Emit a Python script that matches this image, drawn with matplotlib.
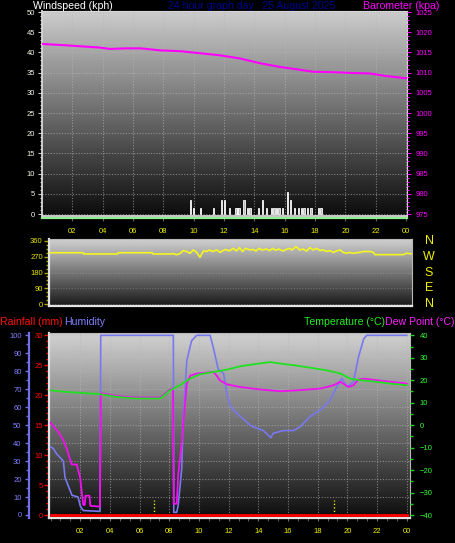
import numpy as np
import matplotlib.pyplot as plt
from matplotlib.ticker import MultipleLocator

plt.rcParams['font.family'] = ['Liberation Sans', 'DejaVu Sans']

# ---- data ----
hour_ticks = [2, 4, 6, 8, 10, 12, 14, 16, 18, 20, 22, 24]
hour_labels = ['02', '04', '06', '08', '10', '12', '14', '16', '18', '20', '22', '00']

wind_hours = [9.80, 10.0, 10.46, 11.32, 11.84, 12.04, 12.35, 12.79, 12.9, 13.0, 13.32, 13.56, 13.71,
              14.28, 14.55, 14.79, 15.14, 15.3, 15.47, 15.64, 15.86, 16.17, 16.39, 16.65,
              16.92, 17.1, 17.27, 17.49, 17.73, 18.22, 18.39]
wind_kph = [3.5, 1.6, 1.6, 1.6, 3.5, 3.5, 1.6, 1.6, 1.6, 1.6, 3.5, 1.6, 1.6,
            1.6, 3.5, 1.6, 1.6, 1.6, 1.6, 1.6, 1.6, 5.4, 3.5, 1.6,
            1.6, 1.6, 1.6, 1.6, 1.6, 1.6, 1.6]

baro_hours = [0, 1.6, 3.8, 4.5, 5.5, 6.5, 7.8, 9.1, 10.4, 11.7, 13.05, 14.4, 15.7, 17.0, 17.9,
              19.2, 20.5, 21.6, 22.7, 24]
baro_hpa = [1017.1, 1016.75, 1016.2, 1015.85, 1016.0, 1016.0, 1015.5, 1015.3, 1014.8, 1014.3,
            1013.5, 1012.3, 1011.4, 1010.7, 1010.2, 1010.1, 1009.9, 1009.8, 1009.15, 1008.6]

dir_hours = [0, 2.2, 2.25, 4.5, 4.55, 6.8, 6.85, 8.0, 8.2, 8.4, 8.6, 8.87, 9.09, 9.31, 9.53, 9.75,
             9.97, 10.2, 10.4, 10.6, 10.8, 11.1, 11.3, 11.5, 11.7, 11.9, 12.2, 12.4, 12.6, 12.8,
             13.0, 13.3, 13.5, 13.7, 13.9, 14.1, 14.4, 14.6, 14.8, 15.0, 15.2, 15.5, 15.7, 15.9,
             16.1, 16.35, 16.62, 16.84, 17.06, 17.28, 17.5, 17.73, 17.95, 18.17, 18.39, 18.61,
             18.83, 19.06, 19.28, 19.5, 19.72, 19.94, 20.16, 20.39, 20.61, 20.83, 21.05, 21.27,
             21.5, 21.6, 23.5, 23.7, 24]
dir_deg = [293, 293, 286, 286, 293, 293, 286, 286, 288, 282, 286, 305, 300, 290, 309, 295,
           267, 303, 300, 309, 300, 309, 295, 305, 312, 303, 318, 303, 322, 300,
           318, 309, 312, 303, 318, 309, 314, 305, 318, 307, 314, 303, 312, 318,
           309, 328, 309, 314, 303, 322, 309, 318, 305, 309, 300, 305,
           295, 303, 309, 295, 290, 295, 290, 293, 295, 300, 300, 300,
           295, 282, 282, 290, 287]
compass = ['N', 'W', 'S', 'E', 'N']
compass_deg = [360, 270, 180, 90, 0]

hum_hours = [0, 0.18, 0.41, 0.86, 0.97, 1.2, 1.44, 1.85, 2.0, 2.2, 3.33, 3.38, 8.27, 8.3, 8.5,
             8.6, 8.84, 8.9, 9.18, 9.5, 9.85, 10.75, 10.97, 11.3, 11.65, 11.87, 12.1, 12.32,
             12.77, 13.45, 13.67, 14.34, 14.84, 15.0, 15.7, 16.37, 16.8, 17.04, 17.5, 18.2,
             18.84, 19.3, 19.63, 19.97, 20.41, 20.75, 21.1, 21.3, 24]
humidity = [38, 37, 34, 30, 21, 16, 11, 10, 5, 2.5, 2, 100, 100, 1.5, 1.5,
            5.5, 26, 49, 86, 97, 100, 100, 93, 81, 79, 68, 61, 58.5,
            55, 50, 49, 47, 43, 45.5, 47, 47, 49, 51, 55, 58.5,
            64, 71.5, 76, 71.5, 74, 88, 98, 100, 100]

temp_hours = [0, 1.08, 3.33, 4.45, 5.58, 7.38, 7.6, 8.05, 8.72, 9.4, 10.07, 10.97, 11.87, 12.77,
              13.67, 14.79, 15.5, 16.37, 17.5, 18.62, 19.52, 20.19, 20.86, 21.99, 22.88, 24]
temp_c = [15.5, 14.8, 13.8, 12.6, 11.9, 11.9, 12.9, 15.5, 17.8, 20.7, 22.7, 23.7, 24.7, 26.2,
          27.1, 28.1, 27.4, 26.7, 25.6, 24.4, 23.0, 20.7, 20.0, 19.3, 18.5, 17.8]

dew_hours = [0, 0.52, 0.86, 1.08, 1.42, 1.76, 1.98, 2.2, 2.3, 2.35, 2.62, 2.68, 3.33, 3.38,
             4.45, 5.58, 7.38, 7.6, 8.05, 8.25, 8.3, 8.5, 8.6, 8.84, 8.96, 9.18, 9.4, 9.85,
             10.97, 11.2, 11.4, 11.87, 12.77, 14.1, 15.5, 16.8, 18.2, 19.08, 19.52, 20.08,
             20.41, 20.75, 21.1, 22.43, 24]
dew_c = [1.0, -3, -6.7, -10.4, -17.5, -17.5, -23, -35.5, -35.5, -31.4, -31.4, -35.9, -36.3, 14.2,
         13.0, 12.3, 12.3, 13.3, 15.9, 16.5, -35, -35, -22, -7.4, 2.2, 18.5, 22, 23,
         23.7, 22, 20, 18.2, 17, 15.9, 15.1, 15.6, 16.3, 17.8, 19.3, 17,
         17.8, 20.3, 20.7, 19.7, 18.5]

rain_hours = [0, 24]
rain_mm = [0, 0]

sun_hours = [6.97, 19.1]

# ---- figure helpers ----
W, H = 455, 543
fig = plt.figure(figsize=(W / 100, H / 100), dpi=100, facecolor='black')
TICK_FS = 5.5


def px_axes(x0, y0, x1, y1):
    return fig.add_axes([x0 / W, 1 - y1 / H, (x1 - x0) / W, (y1 - y0) / H])


def shade(ax, top, bottom):
    g = np.linspace(top, bottom, 200).reshape(-1, 1)
    xl, yl = ax.get_xlim(), ax.get_ylim()
    ax.imshow(g, cmap='gray', vmin=0, vmax=1, aspect='auto',
              extent=(xl[0], xl[1], yl[0], yl[1]), origin='upper', zorder=0)
    ax.set_xlim(xl)
    ax.set_ylim(yl)


def ftext(x, y, s, color, **kw):
    fig.text(x / W, 1 - y / H, s, color=color, fontsize=7.6, va='baseline', **kw)


dot = (0, (1, 1.5))

# ---- top panel: wind speed + barometer ----
ax1 = px_axes(42, 11, 407, 218)
ax1.set_xlim(0, 24.07)
ax1.set_ylim(-0.99, 50.25)
shade(ax1, 0.80, 0.04)
ax1.set_axisbelow(True)
ax1.grid(color='#b8b8b8', ls=dot, lw=0.8, alpha=0.6)
ax1.bar(wind_hours, wind_kph, width=0.09, color='#b8b8b8', edgecolor='white', linewidth=0.6, zorder=3)
ax1.axhline(-0.4, color='#d8d8d8', lw=1.3, zorder=4)
ax1.set_yticks(range(0, 51, 5))
ax1.yaxis.set_minor_locator(MultipleLocator(1))
ax1.tick_params(axis='y', which='both', colors='#c8c8c8', labelcolor='#f4f4e8', labelsize=TICK_FS,
                length=3, width=0.8, pad=2)
ax1.tick_params(axis='y', which='minor', length=1.5)
ax1.set_xticks(hour_ticks, hour_labels)
ax1.tick_params(axis='x', colors='#606060', labelcolor='#f0f000', labelsize=TICK_FS, length=2, pad=5)
for side in ['left', 'top', 'right']:
    ax1.spines[side].set_color('#d8d8d8')
ax1.spines['left'].set_linewidth(1.3)
ax1.spines['bottom'].set_color('#90ee90')
ax1.spines['bottom'].set_linewidth(1.6)

ax1b = ax1.twinx()
ax1b.set_ylim(974.01, 1025.25)
ax1b.plot(baro_hours, baro_hpa, color='#ff00ff', lw=1.5, zorder=5)
ax1b.set_yticks(range(975, 1026, 5))
ax1b.yaxis.set_minor_locator(MultipleLocator(1))
ax1b.tick_params(axis='y', which='both', colors='#ff00ff', labelsize=TICK_FS, length=3, width=0.8, pad=3)
ax1b.tick_params(axis='y', which='minor', length=1.5)
for s in ax1b.spines.values():
    s.set_visible(False)

# ---- middle panel: wind direction ----
ax2 = px_axes(49, 239, 412, 306)
ax2.set_xlim(-0.066, 24.066)
ax2.set_ylim(-11.4, 371.4)
shade(ax2, 0.82, 0.1)
ax2.set_axisbelow(True)
ax2.set_yticks([0, 90, 180, 270, 360])
ax2.yaxis.set_minor_locator(MultipleLocator(22.5))
ax2.grid(axis='y', color='#b8b8b8', ls=dot, lw=0.8, alpha=0.35)
ax2.set_xticks([])
ax2.plot(dir_hours, dir_deg, color='#f5f520', lw=1.2, zorder=3)
ax2.tick_params(axis='y', which='both', colors='#a8a800', labelcolor='#e8e800', labelsize=TICK_FS,
                length=3.5, width=1, pad=1)
ax2.tick_params(axis='y', which='minor', length=2.5)
for side in ['left', 'bottom']:
    ax2.spines[side].set_color('#e4e4e4')
    ax2.spines[side].set_linewidth(1.6)
for side in ['top', 'right']:
    ax2.spines[side].set_color('#b8b8b8')
for lbl, deg in zip(compass, compass_deg):
    ax2.text(1.047, deg, lbl, transform=ax2.get_yaxis_transform(), color='#f0f000',
             fontsize=9, ha='center', va='center')

# ---- bottom panel: rain, humidity, temperature, dew point ----
ax3 = px_axes(49, 333, 410, 518)
ax3.set_xlim(-0.108, 24.22)
ax3.set_ylim(-0.5, 30.39)
shade(ax3, 0.82, 0.05)
ax3.set_axisbelow(True)
ax3.grid(axis='x', color='#b8b8b8', ls=dot, lw=0.8, alpha=0.6)
ax3.set_xticks(hour_ticks, hour_labels)
ax3.xaxis.set_minor_locator(MultipleLocator(2 / 3))
ax3.tick_params(axis='x', which='both', colors='#707070', labelcolor='#f0f000', labelsize=TICK_FS,
                length=2, pad=5)
ax3.set_yticks(range(0, 31, 5))
ax3.yaxis.set_minor_locator(MultipleLocator(1))
ax3.tick_params(axis='y', which='both', colors='#ff0000', labelsize=TICK_FS, length=3.5, width=1, pad=1)
ax3.tick_params(axis='y', which='minor', length=2)
for side in ['left', 'bottom']:
    ax3.spines[side].set_color('#e4e4e4')
    ax3.spines[side].set_linewidth(1.6)
for side in ['top', 'right']:
    ax3.spines[side].set_color('#b8b8b8')

hum = ax3.twinx()
hum.set_ylim(-1.67, 101.3)
hum.yaxis.set_ticks_position('left')
hum.set_axisbelow(True)
hum.set_yticks(range(0, 101, 10))
hum.yaxis.set_minor_locator(MultipleLocator(5))
hum.grid(axis='y', color='#b8b8b8', ls=dot, lw=0.8, alpha=0.6)
for s in hum.spines.values():
    s.set_visible(False)
hum.spines['left'].set_visible(True)
hum.spines['left'].set_position(('axes', -0.055))
hum.spines['left'].set_color('#7070e8')
hum.spines['left'].set_linewidth(1.6)
hum.tick_params(axis='y', which='both', colors='#7070e8', labelcolor='#8080ff', labelsize=TICK_FS,
                length=3, width=1, pad=2.5)
hum.tick_params(axis='y', which='minor', length=2)
hum.plot(hum_hours, humidity, color='#7878f0', lw=1.2, zorder=3)
hum.vlines(sun_hours, 0, 8.5, colors='#e8e800', linestyles=dot, lw=1, zorder=3)

tmp = ax3.twinx()
tmp.set_ylim(-41.33, 41.04)
tmp.set_yticks(range(-40, 41, 10))
tmp.yaxis.set_minor_locator(MultipleLocator(5))
tmp.tick_params(axis='y', which='both', colors='#20d020', labelcolor='#30ff30', labelsize=TICK_FS,
                length=3, width=1, pad=4)
tmp.tick_params(axis='y', which='minor', length=2)
for s in tmp.spines.values():
    s.set_visible(False)
tmp.plot(dew_hours, dew_c, color='#f010f0', lw=1.3, zorder=3)
tmp.plot(temp_hours, temp_c, color='#20e020', lw=1.3, zorder=4)
tmp.plot(rain_hours, rain_mm, color='#ff0000', lw=2, zorder=5, transform=ax3.transData)

# ---- header texts ----
ftext(33, 9, 'Windspeed (kph)', 'white')
ftext(168, 9, '24 hour graph day : 25 August 2025', '#000090')
ftext(363, 9, 'Barometer (kpa)', '#ff00ff')
ftext(0, 325, 'Rainfall (mm)', '#ff1010')
ftext(64, 325, 'Humidity', '#8080ff')
ftext(385, 325, 'Temperature (°C)', '#22ee22', ha='right')
ftext(385, 325, 'Dew Point (°C)', '#ff20ff')

fig.savefig('out.png', dpi=100, facecolor='black')
